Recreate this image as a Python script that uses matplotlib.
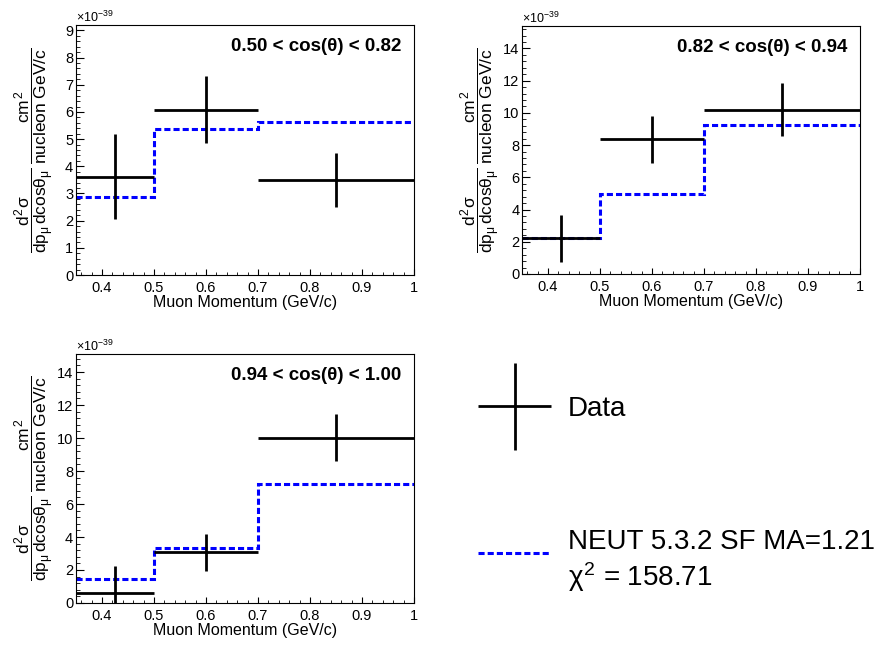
import numpy as np
import matplotlib
matplotlib.use("Agg")
import matplotlib.pyplot as plt
from matplotlib.ticker import MultipleLocator
from matplotlib.legend_handler import HandlerErrorbar
from matplotlib.container import ErrorbarContainer

plt.rcParams['font.family'] = ['Liberation Sans', 'DejaVu Sans']
plt.rcParams['mathtext.fontset'] = 'custom'
plt.rcParams['mathtext.rm'] = 'Liberation Sans'
plt.rcParams['mathtext.it'] = 'Liberation Sans'
plt.rcParams['mathtext.bf'] = 'Liberation Sans:bold'
plt.rcParams['axes.linewidth'] = 0.8

# bin edges in muon momentum (GeV/c)
edges = [0.35, 0.5, 0.7, 1.0]

# cross sections in units of 1e-39 cm^2 / nucleon GeV/c
angle_labels = ["0.50 < cos(θ) < 0.82", "0.82 < cos(θ) < 0.94", "0.94 < cos(θ) < 1.00"]
data_1 = [3.62, 6.09, 3.50]
err_1 = [1.57, 1.25, 1.00]
mc_1 = [2.88, 5.36, 5.62]

data_2 = [2.21, 8.35, 10.21]
err_2 = [1.47, 1.43, 1.67]
mc_2 = [2.25, 4.97, 9.23]

data_3 = [0.63, 3.08, 10.02]
err_3 = [1.60, 1.12, 1.41]
mc_3 = [1.46, 3.36, 7.22]

ymax = [9.2, 15.4, 15.1]
ymajor = [1, 2, 2]

SCALE = 1e-39
model_label = "NEUT 5.3.2 SF MA=1.21\n$\\chi^{2}$ = 158.71"

fig = plt.figure(figsize=(8.86, 6.46), dpi=100)
positions = [
    [0.0858, 0.5743, 0.3815, 0.387],
    [0.5892, 0.5759, 0.3815, 0.384],
    [0.0858, 0.0666, 0.3815, 0.3855],
]

ylab = (r'$\dfrac{d^{2}\sigma}{dp_{\mu}\,dcos\theta_{\mu}}\;'
        r'\dfrac{cm^{2}}{nucleon\ GeV/c}$')

edges_a = np.array(edges)
centers = 0.5 * (edges_a[1:] + edges_a[:-1])
halfw = 0.5 * (edges_a[1:] - edges_a[:-1])

panels = [(data_1, err_1, mc_1), (data_2, err_2, mc_2), (data_3, err_3, mc_3)]
handles = None
for i, (d, e, m) in enumerate(panels):
    ax = fig.add_axes(positions[i])
    mc_line = ax.stairs(np.array(m) * SCALE, edges_a, baseline=None,
                        color='#0000ff', linewidth=2.2, linestyle=(0, (2, 1)),
                        label=model_label, zorder=2)
    eb = ax.errorbar(centers, np.array(d) * SCALE, xerr=halfw,
                     yerr=np.array(e) * SCALE, fmt='.', color='black',
                     markersize=2, elinewidth=2.0, capsize=0, label='Data',
                     zorder=3)
    ax.set_xlim(0.35, 1.0)
    ax.set_ylim(0, ymax[i] * SCALE)
    ax.xaxis.set_major_locator(MultipleLocator(0.1))
    ax.xaxis.set_minor_locator(MultipleLocator(0.02))
    ax.yaxis.set_major_locator(MultipleLocator(ymajor[i] * SCALE))
    ax.yaxis.set_minor_locator(MultipleLocator(ymajor[i] * SCALE / 5))
    ax.yaxis.set_major_formatter(plt.FuncFormatter(lambda v, p: '%g' % round(v / SCALE, 4)))
    ax.xaxis.set_major_formatter(plt.FuncFormatter(lambda v, p: '%g' % round(v, 2)))
    ax.tick_params(axis='both', which='both', direction='in', top=False,
                   right=False, labelsize=10.5)
    ax.tick_params(axis='y', which='major', length=5.8, pad=2)
    ax.tick_params(axis='y', which='minor', length=3.0)
    ax.tick_params(axis='x', which='major', length=4.3, pad=4)
    ax.tick_params(axis='x', which='minor', length=2.2)
    ax.text(0.0, 1.012, r'$\times10^{-39}$', transform=ax.transAxes,
            ha='left', va='baseline', fontsize=9)
    ax.set_xlabel('Muon Momentum (GeV/c)', fontsize=11.5, labelpad=0)
    ax.set_ylabel(ylab, fontsize=12.5)
    ax.yaxis.set_label_coords(-0.06, 0.5)
    ax.text(0.962, 0.913, angle_labels[i], transform=ax.transAxes,
            ha='right', va='center', fontsize=13.5, fontweight='bold')
    handles = (eb, mc_line)

hmap = {ErrorbarContainer: HandlerErrorbar(xerr_size=1.31, yerr_size=1.56)}
fig.legend([handles[0]], ['Data'], loc='center left',
           bbox_to_anchor=(0.5395, 0.3669), frameon=False, fontsize=20,
           handlelength=2.63, handletextpad=0.6, borderpad=0,
           borderaxespad=0, numpoints=1, handler_map=hmap)
fig.legend([handles[1]], [model_label], loc='center left',
           bbox_to_anchor=(0.5395, 0.131), frameon=False, fontsize=20,
           handlelength=2.63, handleheight=1.7, handletextpad=0.6,
           borderpad=0, borderaxespad=0)

fig.savefig('out.png', dpi=100)
